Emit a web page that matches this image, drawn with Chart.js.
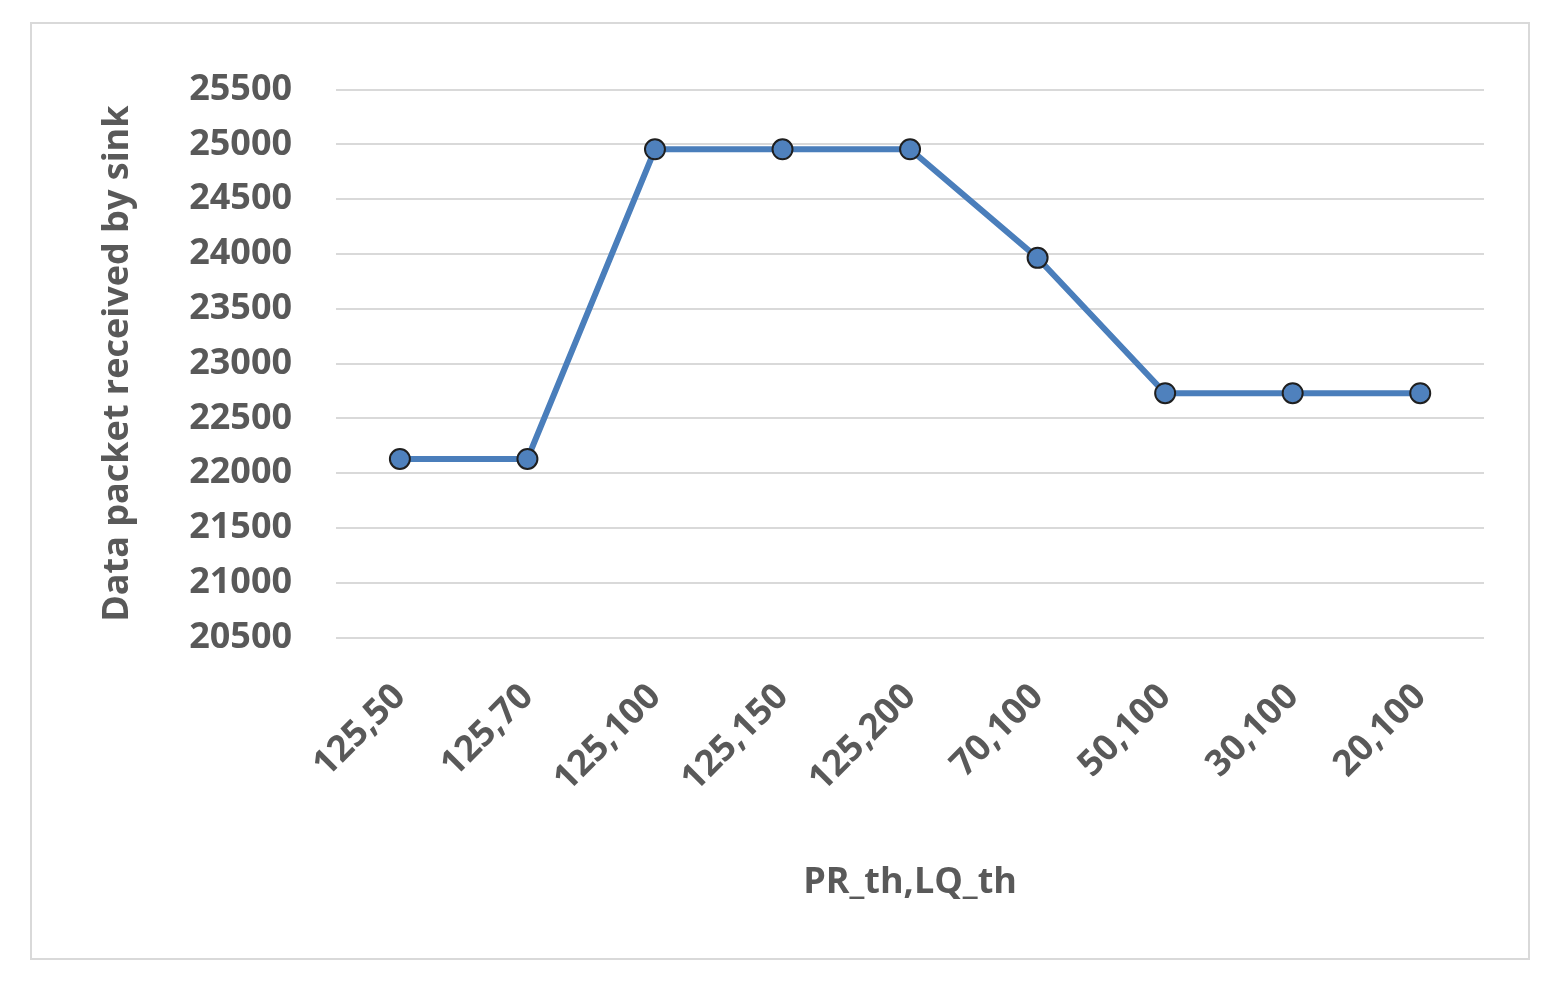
<!DOCTYPE html>
<html>
<head>
<meta charset="utf-8">
<script src="https://cdn.jsdelivr.net/npm/chart.js@4"></script>
<style>
  body { margin: 0; background: #fff; }
  #frame { position: absolute; left: 30px; top: 22px; width: 1500px; height: 938px; border: 2px solid #d9d9d9; box-sizing: border-box; }
  canvas { display: block; }
</style>
</head>
<body>
<div id="frame"><canvas id="chart" width="1496" height="934"></canvas></div>
<script>
const categories = ['125,50', '125,70', '125,100', '125,150', '125,200', '70,100', '50,100', '30,100', '20,100']
const packets = [22130, 22130, 24955, 24955, 24955, 23965, 22730, 22730, 22730]
const yMin = 20500
const yMax = 25500
const yStep = 500

const grey = '#595959'
const font = { family: 'Open Sans', size: 36, weight: 'bold' }

new Chart(document.getElementById('chart').getContext('2d'), {
  type: 'line',
  data: {
    labels: categories,
    datasets: [{
      data: packets,
      borderColor: '#4a7ebb',
      borderWidth: 6,
      backgroundColor: '#4f81bd',
      pointBorderColor: '#1f1f1f',
      pointBorderWidth: 2,
      pointRadius: 10,
      tension: 0,
    }],
  },
  options: {
    responsive: false,
    animation: false,
    layout: { padding: { left: 60, right: 44, top: 14, bottom: 50 } },
    scales: {
      x: {
        offset: true,
        grid: { display: false },
        border: { display: false },
        ticks: { color: grey, font, maxRotation: 45, minRotation: 45, padding: 30 },
        title: { display: true, text: 'PR_th,LQ_th', color: grey, font, padding: { top: 30 } },
      },
      y: {
        min: yMin,
        max: yMax,
        grid: { color: '#d9d9d9', lineWidth: 2, drawTicks: false },
        border: { display: false },
        ticks: { stepSize: yStep, color: grey, font, padding: 44, callback: (v) => String(v) },
        title: { display: true, text: 'Data packet received by sink', color: grey, font, padding: { bottom: 6 } },
      },
    },
    plugins: { legend: { display: false }, tooltip: { enabled: false } },
  },
})
</script>
</body>
</html>
